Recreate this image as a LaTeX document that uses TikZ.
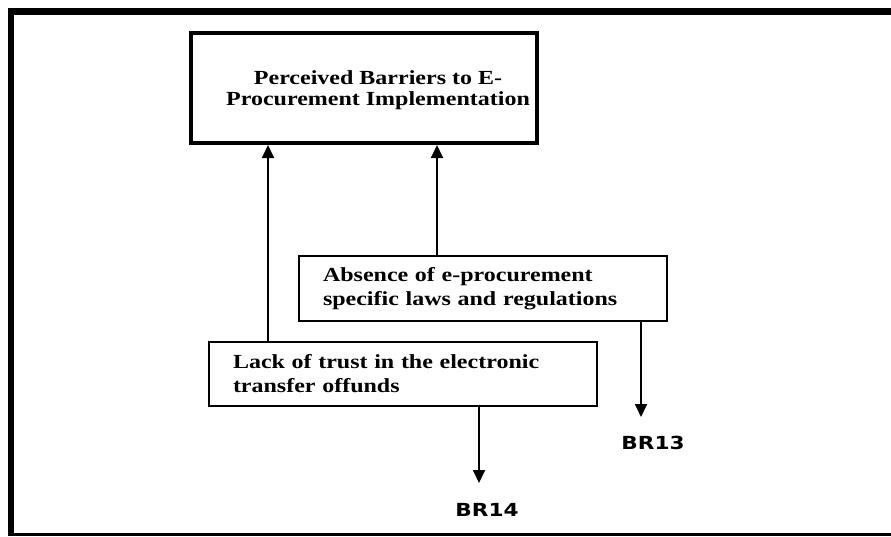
\documentclass[tikz,border=0pt]{standalone}
\usepackage{fontspec}
\usetikzlibrary{arrows.meta}
\newfontfamily\serwide[FakeStretch=1.2]{Liberation Serif}
\newfontfamily\sanwide[FakeStretch=1.2]{DejaVu Sans}
\begin{document}
\begin{tikzpicture}[x=1pt,y=-1pt,
  boxtext/.style={font=\serwide\bfseries\fontsize{20}{24}\selectfont},
  mainbox/.style={draw, line width=4pt, minimum width=346pt, minimum height=110pt, inner sep=0pt, boxtext, align=center},
  subbox/.style={draw, line width=1.8pt, inner xsep=24pt, inner ysep=0pt, boxtext, align=left},
  brlabel/.style={font=\sanwide\bfseries\fontsize{18}{20}\selectfont, inner sep=0pt},
  arr/.style={line width=1.8pt, -{Triangle[width=12pt,length=13pt]}}
]
\useasboundingbox (0,0) rectangle (891,536);
% frame
\fill[black] (8,8) rectangle (891,15);
\fill[black] (8,8) rectangle (14,536);
\fill[black] (8,533) rectangle (891,536);

\node[mainbox] (main) at (364,88) {\hspace*{28pt}\begin{tabular}{@{}c@{}}\rule{0pt}{22pt}Perceived Barriers to E-\\[-3pt]Procurement Implementation\end{tabular}};

\node[subbox, text width=320pt, minimum height=65pt] (abs) at (483,288.5) {\rule{0pt}{8pt}Absence of e-procurement\\specific laws and regulations};

\node[subbox, text width=340pt, minimum height=64pt] (lack) at (403,374) {\rule{0pt}{8pt}Lack of trust in the electronic\\transfer offunds};

\node[brlabel] (br13) at (653,443) {BR13};
\node[brlabel] (br14) at (487,510) {BR14};

\coordinate (upL) at (268,0);
\coordinate (upR) at (437,0);
\coordinate (t13) at (641,417);
\coordinate (t14) at (479,483);

\draw[arr] (lack.north -| upL) -- (main.south -| upL);
\draw[arr] (abs.north -| upR) -- (main.south -| upR);
\draw[arr] (abs.south -| t13) -- (t13);
\draw[arr] (lack.south -| t14) -- (t14);
\end{tikzpicture}
\end{document}
